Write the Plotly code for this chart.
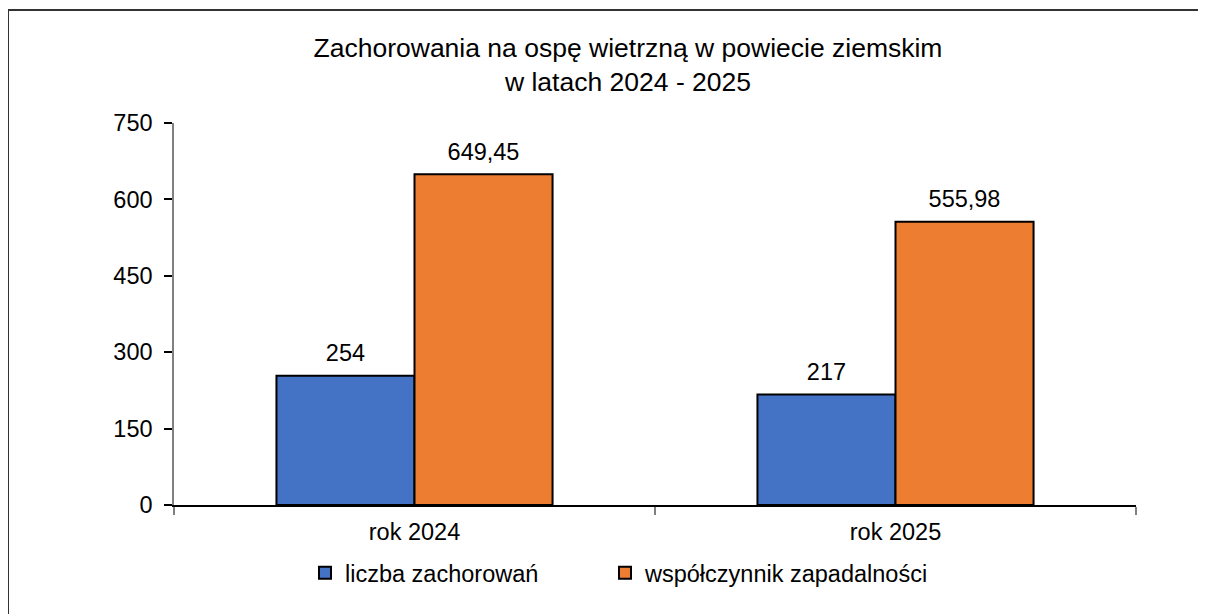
import plotly.graph_objects as go

categories = ["rok 2024", "rok 2025"]
series_names = ["liczba zachorowań", "współczynnik zapadalności"]
liczba = [254, 217]
wspolczynnik = [649.45, 555.98]
y_ticks = [0, 150, 300, 450, 600, 750]
title_lines = ["Zachorowania na ospę wietrzną w powiecie ziemskim", "w latach 2024 - 2025"]

FONT = "Liberation Sans, Arial, sans-serif"
BLUE = "#4472C4"
ORANGE = "#ED7D31"

# page body has an 8px margin: figure coordinates = screen coordinates - 8
W, H = 1198, 606
L, R, T, B = 166, 70, 115, 109
pw = W - L - R
ph = H - T - B
GAP = 0.426

fig = go.Figure()
fig.add_trace(go.Bar(
    x=categories, y=liczba, name=series_names[0], legend="legend",
    marker=dict(color=BLUE, line=dict(color="#000000", width=2)),
))
fig.add_trace(go.Bar(
    x=categories, y=wspolczynnik, name=series_names[1], legend="legend2",
    marker=dict(color=ORANGE, line=dict(color="#000000", width=2)),
))
# data labels drawn as grouped text points aligned with the bars
fig.add_trace(go.Scatter(
    x=categories, y=liczba, mode="markers+text", showlegend=False, hoverinfo="skip",
    text=[f"{v}" for v in liczba], textposition="top center",
    marker=dict(size=12, opacity=0), cliponaxis=False,
    textfont=dict(family=FONT, size=23.5, color="#000000"),
))
fig.add_trace(go.Scatter(
    x=categories, y=wspolczynnik, mode="markers+text", showlegend=False, hoverinfo="skip",
    text=[f"{v:.2f}".replace(".", ",") for v in wspolczynnik], textposition="top center",
    marker=dict(size=12, opacity=0), cliponaxis=False,
    textfont=dict(family=FONT, size=23.5, color="#000000"),
))

fig.update_layout(
    width=W, height=H,
    margin=dict(l=L, r=R, t=T, b=B, pad=0),
    paper_bgcolor="white", plot_bgcolor="white",
    separators=", ",
    barmode="group", bargap=GAP, bargroupgap=0,
    scattermode="group", scattergap=GAP,
    font=dict(family=FONT, color="#000000"),
    title=dict(
        text="<br>".join(title_lines),
        x=(620 - L) / pw, xref="paper", xanchor="center",
        y=1 - 49 / H, yref="container", yanchor="middle",
        font=dict(family=FONT, size=26.5, color="#000000"),
    ),
    xaxis=dict(
        type="category", showgrid=False, showline=True, linecolor="#000000", linewidth=2,
        ticks="outside", tickson="boundaries", ticklen=8, tickcolor="#808080", tickwidth=2,
        tickfont=dict(family=FONT, size=23.5, color="#000000"),
        ticklabelstandoff=5, zeroline=False,
    ),
    yaxis=dict(
        range=[0, 750], tickvals=y_ticks, showgrid=False, showline=True,
        linecolor="#808080", linewidth=1.5, ticks="outside", ticklen=8,
        tickcolor="#000000", tickwidth=1.5,
        tickfont=dict(family=FONT, size=23.5, color="#000000"),
        ticklabelstandoff=7, zeroline=False,
    ),
    showlegend=True,
    legend=dict(
        orientation="h", x=(297 - L) / pw, xanchor="left",
        y=(T + ph - 565) / ph, yanchor="middle",
        font=dict(family=FONT, size=23.5, color="#000000"),
        bgcolor="rgba(0,0,0,0)",
    ),
    legend2=dict(
        orientation="h", x=(597 - L) / pw, xanchor="left",
        y=(T + ph - 565) / ph, yanchor="middle",
        font=dict(family=FONT, size=23.5, color="#000000"),
        bgcolor="rgba(0,0,0,0)",
    ),
    shapes=[dict(
        type="rect", xref="paper", yref="paper",
        x0=(0 - L) / pw, x1=1.2, y0=-0.5, y1=(T + ph - 2) / ph,
        line=dict(color="#333333", width=2), fillcolor="rgba(0,0,0,0)", layer="below",
    )],
)

fig.write_html("out.html")
